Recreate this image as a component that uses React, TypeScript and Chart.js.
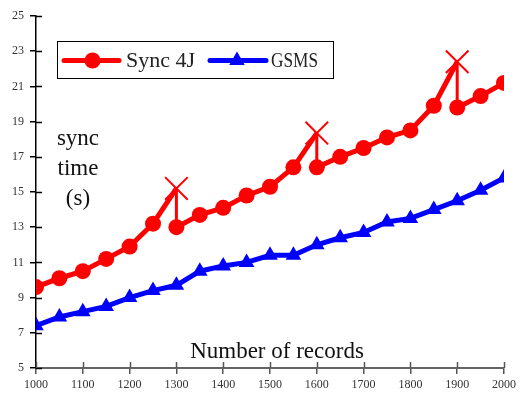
import React, { useEffect, useRef } from "react";
import { Chart, registerables } from "chart.js";

Chart.register(...registerables);

const xValues = [1000, 1050, 1100, 1150, 1200, 1250, 1300, 1300, 1350, 1400, 1450, 1500, 1550, 1600, 1600, 1650, 1700, 1750, 1800, 1850, 1900, 1900, 1950, 2000];
const sync4jValues = [9.6, 10.1, 10.5, 11.2, 11.9, 13.2, 15.2, 13.0, 13.7, 14.1, 14.8, 15.3, 16.4, 18.35, 16.4, 17.0, 17.5, 18.1, 18.5, 19.9, 22.4, 19.8, 20.45, 21.2];
const sync4jPeak = [false, false, false, false, false, false, true, false, false, false, false, false, false, true, false, false, false, false, false, false, true, false, false, false];

const gsmsX = [1000, 1050, 1100, 1150, 1200, 1250, 1300, 1350, 1400, 1450, 1500, 1550, 1600, 1650, 1700, 1750, 1800, 1850, 1900, 1950, 2000];
const gsmsValues = [7.4, 7.9, 8.2, 8.5, 9.0, 9.4, 9.7, 10.5, 10.8, 11.0, 11.4, 11.4, 12.0, 12.4, 12.7, 13.3, 13.5, 14.0, 14.5, 15.1, 15.8];

const seriesLabels = ["Sync 4J", "GSMS"];
const xTitle = "Number of records";
const yTitleLines = ["sync", "time", "(s)"];
const SERIF = "'Liberation Serif', 'DejaVu Serif', serif";

const crossTicks = {
  id: "crossTicks",
  afterDatasetsDraw(chart: any) {
    const { ctx, scales, chartArea } = chart;
    ctx.save();
    ctx.lineWidth = 1.5;
    ctx.strokeStyle = "#000";
    scales.y.ticks.forEach((t: any) => {
      const py = Math.round(scales.y.getPixelForValue(t.value)) + 0.5;
      ctx.beginPath();
      ctx.moveTo(chartArea.left, py);
      ctx.lineTo(chartArea.left + 6, py);
      ctx.stroke();
    });
    ctx.strokeStyle = "#555";
    scales.x.ticks.forEach((t: any) => {
      const px = Math.round(scales.x.getPixelForValue(t.value)) + 0.5;
      ctx.beginPath();
      ctx.moveTo(px, chartArea.bottom);
      ctx.lineTo(px, chartArea.bottom - 6);
      ctx.stroke();
    });
    ctx.restore();
  },
};

const annotations = {
  id: "annotations",
  afterDraw(chart: any) {
    const { ctx } = chart;
    ctx.save();
    ctx.fillStyle = "#111";
    ctx.font = `23px ${SERIF}`;
    ctx.textAlign = "center";
    ctx.textBaseline = "alphabetic";
    ctx.fillText(xTitle, 277, 358);
    yTitleLines.forEach((s, i) => ctx.fillText(s, 78, 145 + i * 30));

    // legend
    const bx = 57, by = 41, bw = 276, bh = 37;
    ctx.fillStyle = "#fff";
    ctx.fillRect(bx, by, bw, bh);
    ctx.strokeStyle = "#000";
    ctx.lineWidth = 1;
    ctx.strokeRect(bx + 0.5, by + 0.5, bw, bh);
    const cy = 60.5;
    const ds = chart.data.datasets;
    // series 1
    ctx.strokeStyle = ds[0].borderColor;
    ctx.fillStyle = ds[0].borderColor;
    ctx.lineWidth = 5;
    ctx.lineCap = "round";
    ctx.beginPath();
    ctx.moveTo(64, cy);
    ctx.lineTo(119, cy);
    ctx.stroke();
    ctx.beginPath();
    ctx.arc(92.5, cy, 8, 0, Math.PI * 2);
    ctx.fill();
    ctx.fillStyle = "#222";
    ctx.textAlign = "left";
    ctx.textBaseline = "middle";
    ctx.font = `22px ${SERIF}`;
    ctx.fillText(ds[0].label, 126, cy + 1, 71);
    // series 2
    ctx.strokeStyle = ds[1].borderColor;
    ctx.fillStyle = ds[1].borderColor;
    ctx.beginPath();
    ctx.moveTo(210, cy);
    ctx.lineTo(266, cy);
    ctx.stroke();
    const r = 9;
    ctx.beginPath();
    ctx.moveTo(237, cy - r);
    ctx.lineTo(237 + r * 0.866, cy + r / 2);
    ctx.lineTo(237 - r * 0.866, cy + r / 2);
    ctx.closePath();
    ctx.fill();
    ctx.fillStyle = "#222";
    ctx.fillText(ds[1].label, 271, cy + 1, 47);
    ctx.restore();
  },
};

export default function App() {
  const ref = useRef<HTMLCanvasElement>(null);
  useEffect(() => {
    if (!ref.current) return;
    const syncData = xValues.map((x, i) => ({ x, y: sync4jValues[i] }));
    const gsmsData = gsmsX.map((x, i) => ({ x, y: gsmsValues[i] }));
    const chart = new Chart(ref.current, {
      type: "line",
      data: {
        datasets: [
          {
            label: seriesLabels[0],
            data: syncData,
            borderColor: "#ff0000",
            backgroundColor: "#ff0000",
            borderWidth: 5,
            pointStyle: sync4jPeak.map((p) => (p ? "crossRot" : "circle")) as any,
            pointRadius: sync4jPeak.map((p) => (p ? 16 : 8)),
            pointBorderWidth: sync4jPeak.map((p) => (p ? 2 : 0)),
            pointBackgroundColor: "#ff0000",
            pointBorderColor: "#ff0000",
            tension: 0,
            segment: {
              borderWidth: (c: any) => (c.p0.parsed.x === c.p1.parsed.x ? 3 : 5),
            },
          },
          {
            label: seriesLabels[1],
            data: gsmsData,
            borderColor: "#0000ff",
            backgroundColor: "#0000ff",
            borderWidth: 5,
            pointStyle: "triangle",
            pointRadius: 9,
            pointBorderWidth: 0,
            pointBackgroundColor: "#0000ff",
            tension: 0,
          },
        ],
      },
      options: {
        animation: false,
        responsive: false,
        events: [],
        layout: { padding: { top: 16, right: 14, left: 0, bottom: 0 } },
        plugins: { legend: { display: false }, tooltip: { enabled: false } },
        scales: {
          x: {
            type: "linear",
            min: 1000,
            max: 2000,
            afterFit: (s: any) => { s.height = 28; },
            ticks: {
              stepSize: 100,
              padding: 4,
              color: "#333",
              font: { family: SERIF, size: 12 },
              callback: (v: any) => String(v),
            },
            grid: { drawOnChartArea: false, tickLength: 6, color: "#555", lineWidth: 1.5 },
            border: { color: "#666", width: 2 },
          },
          y: {
            min: 5,
            max: 25,
            afterFit: (s: any) => { s.width = 36; },
            ticks: { stepSize: 2, padding: 6, color: "#333", font: { family: SERIF, size: 12 } },
            grid: { drawOnChartArea: false, tickLength: 6, color: "#000", lineWidth: 1.5 },
            border: { color: "#000", width: 1.5 },
          },
        },
      },
      plugins: [crossTicks, annotations],
    });
    return () => chart.destroy();
  }, []);
  return (
    <div style={{ position: "fixed", left: 0, top: 0, width: 520, height: 396, background: "#fff" }}>
      <canvas ref={ref} width={520} height={396} />
    </div>
  );
}
